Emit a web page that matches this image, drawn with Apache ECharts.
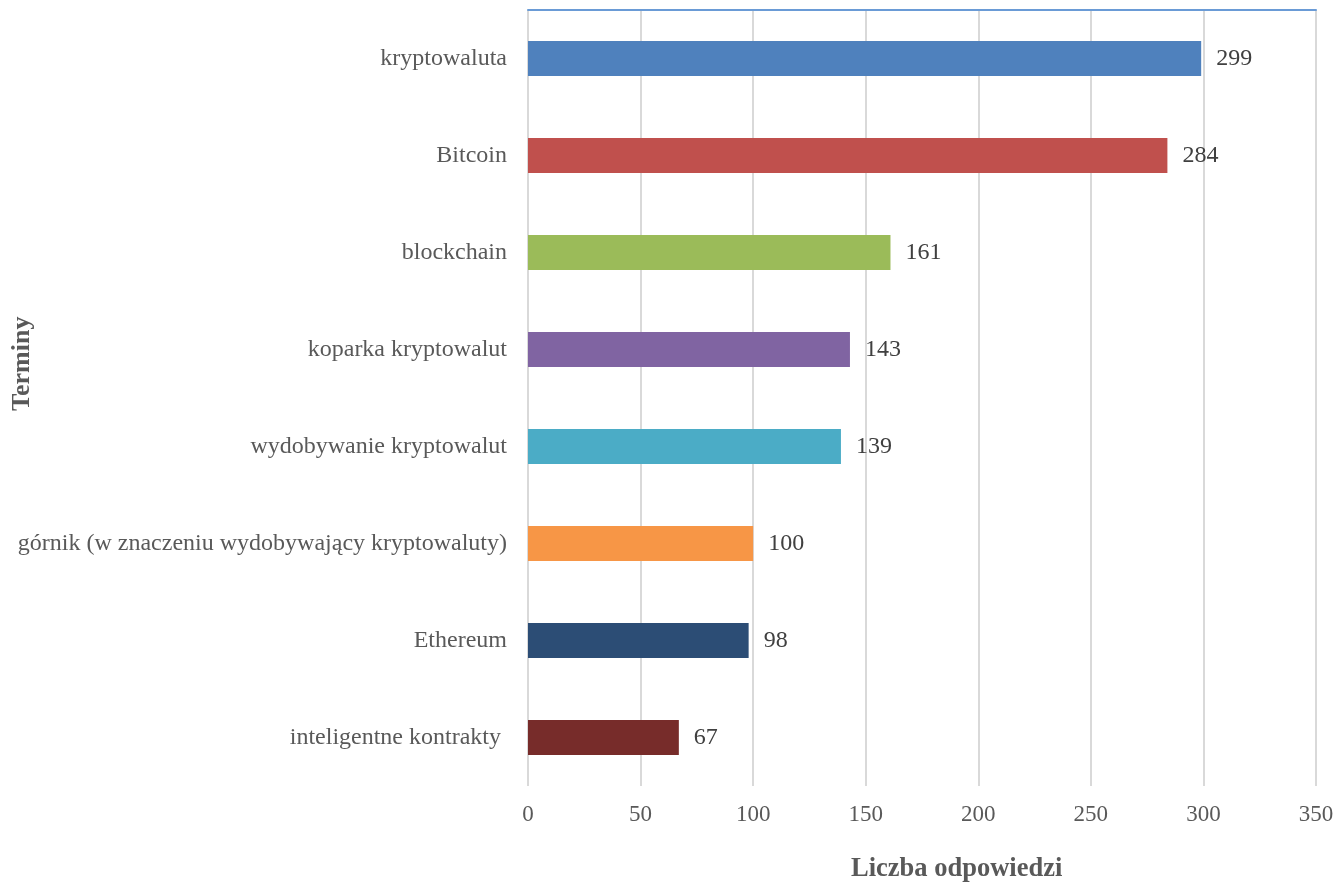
<!DOCTYPE html>
<html><head><meta charset="utf-8">
<script src="https://cdn.jsdelivr.net/npm/echarts@6/dist/echarts.min.js"></script>
<style>html,body{margin:0;padding:0;background:#fff}#c{width:1338px;height:884px}</style>
</head><body><div id="c"></div>
<script>
const categories = ['kryptowaluta','Bitcoin','blockchain','koparka kryptowalut','wydobywanie kryptowalut','górnik (w znaczeniu wydobywający kryptowaluty)','Ethereum','inteligentne kontrakty '];
const values = [299, 284, 161, 143, 139, 100, 98, 67];
const colors = ['#4f81bd','#c0504d','#9bbb59','#8064a2','#4bacc6','#f79646','#2c4d75','#772c2a'];
const xTicks = [0, 50, 100, 150, 200, 250, 300, 350];
const xTitle = 'Liczba odpowiedzi';
const yTitle = 'Terminy';

const font = '"Liberation Serif", "Times New Roman", serif';
const chart = echarts.init(document.getElementById('c'));
chart.setOption({
  animation: false,
  grid: {left: 528, right: 22, top: 10, bottom: 98, containLabel: false},
  xAxis: [{
    type: 'value', min: xTicks[0], max: xTicks[xTicks.length-1], interval: 50,
    axisLine: {show: false}, axisTick: {show: false},
    splitLine: {lineStyle: {color: '#d9d9d9', width: 2}},
    axisLabel: {fontFamily: font, fontSize: 23, color: '#595959', margin: 17}
  }, {
    type: 'value', position: 'top', min: 0, max: 350,
    axisLine: {show: true, lineStyle: {color: '#6a9bd6', width: 2}},
    axisTick: {show: false}, axisLabel: {show: false}, splitLine: {show: false}
  }],
  yAxis: {
    type: 'category', data: categories, inverse: true,
    axisLine: {show: false}, axisTick: {show: false},
    axisLabel: {fontFamily: font, fontSize: 24, color: '#595959', margin: 21, padding: [4, 0, 0, 0]}
  },
  series: [{
    type: 'bar', barWidth: 35,
    data: values.map((v, i) => ({value: v, itemStyle: {color: colors[i]}})),
    label: {show: true, position: 'right', distance: 15, fontFamily: font, fontSize: 24, color: '#404040', padding: [4, 0, 0, 0]}
  }],
  graphic: [
    {type: 'text', left: 851, top: 856, style: {text: xTitle, font: 'bold 26.5px ' + font, fill: '#595959'}},
    {type: 'text', x: 9, y: 411, rotation: Math.PI/2, style: {text: yTitle, font: 'bold 26px ' + font, fill: '#595959'}}
  ]
});
</script></body></html>
